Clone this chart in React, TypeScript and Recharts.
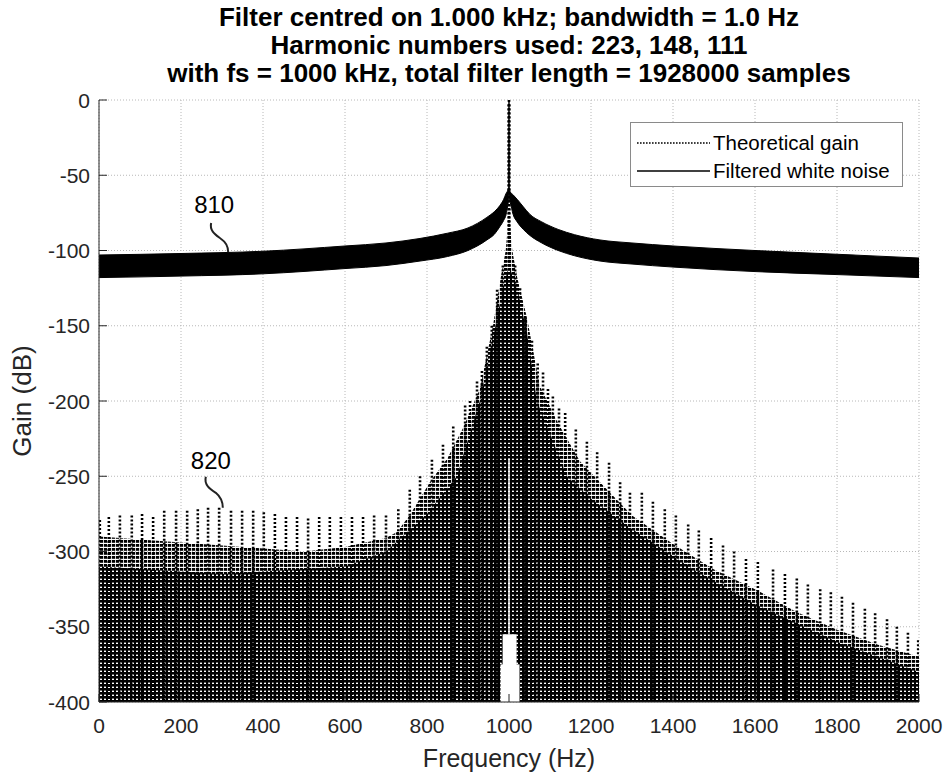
import React from 'react';
import {
  ComposedChart,
  Line,
  Area,
  XAxis,
  YAxis,
  CartesianGrid,
  ReferenceDot,
  Legend,
} from 'recharts';

const FONT = '"Liberation Sans", Arial, Helvetica, sans-serif';
const AXIS_COLOR = '#262626';

const titleLines = [
  'Filter centred on 1.000 kHz; bandwidth = 1.0 Hz',
  'Harmonic numbers used: 223, 148, 111',
  'with fs = 1000 kHz, total filter length = 1928000 samples',
];

const xTicks = [0, 200, 400, 600, 800, 1000, 1200, 1400, 1600, 1800, 2000];
const yTicks = [0, -50, -100, -150, -200, -250, -300, -350, -400];

// Filtered white noise: thick band (low / high envelope, dB)
const noiseFreq = [0, 200, 400, 600, 700, 783, 850, 900, 946, 965, 978, 987, 993, 997, 999, 1000, 1001, 1003, 1010, 1020, 1035, 1051, 1080, 1120, 1160, 1222, 1300, 1400, 1600, 1800, 2000];
const noiseHigh = [-103, -102, -100.5, -97, -95, -92, -88.5, -85, -78, -74, -70, -66, -62, -60, -58, 0, -58, -61, -63, -66, -71, -76, -81, -86, -89.5, -93, -95, -97, -100, -102.5, -105];
const noiseLow = [-118, -117, -115.5, -112, -110, -107, -104, -100, -93, -89, -84, -80, -76, -70, -66, -62, -66, -68, -76, -81, -86, -90, -95, -100, -103.5, -107, -109, -111, -114, -116, -118];

// Theoretical gain: visible peaks of the oscillating (dotted) curve
const spikeFreq = [2, 24, 51, 80, 105, 132, 159, 188, 215, 241, 266, 293, 322, 349, 376, 402, 429, 456, 483, 510, 537, 563, 590, 617, 644, 671, 700, 730, 758, 783, 812, 839, 864, 893, 905, 922, 934, 946, 958, 971, 985, 999, 1000, 1001, 1015, 1027, 1040, 1056, 1070, 1083, 1095, 1107, 1122, 1137, 1163, 1190, 1215, 1244, 1271, 1295, 1324, 1351, 1380, 1407, 1437, 1463, 1493, 1522, 1549, 1578, 1607, 1644, 1673, 1702, 1729, 1759, 1785, 1812, 1839, 1868, 1893, 1922, 1946, 1973, 1998];
const spikeTop = [-279, -277, -276, -276, -275, -277, -273, -273, -273, -272, -271, -271, -273, -273, -273, -274, -275, -277, -277, -278, -277, -277, -277, -277, -277, -276, -276, -272, -259, -250, -239, -229, -217, -203, -200, -187, -180, -164, -150, -126, -110, -3, 0, -3, -110, -125, -145, -160, -175, -181, -192, -197, -205, -208, -219, -227, -234, -241, -254, -261, -261, -267, -272, -276, -282, -286, -291, -296, -300, -305, -307, -312, -315, -318, -322, -325, -327, -330, -334, -338, -341, -345, -350, -354, -359];

// Theoretical gain: top of the densely packed oscillations (light texture)
const massFreq = [0, 100, 200, 300, 400, 500, 600, 700, 727, 760, 807, 850, 888, 929, 961, 980, 992, 1000, 1008, 1020, 1044, 1075, 1120, 1173, 1250, 1300, 1400, 1500, 1600, 1700, 1800, 1900, 2000];
const massTop = [-290, -292, -294, -296, -298, -300, -297, -291, -287, -275, -254, -238, -218, -192, -150, -118, -100, -75, -100, -118, -145, -190, -215, -240, -262, -276, -295, -312, -325, -340, -352, -362, -370];

// Theoretical gain: top of the nearly solid region (dark texture)
const denseFreq = [0, 300, 600, 700, 800, 873, 929, 960, 985, 1000, 1020, 1044, 1068, 1141, 1200, 1300, 1450, 1600, 1800, 2000];
const denseTop = [-310, -315, -310, -300, -275, -250, -200, -160, -125, -110, -125, -155, -200, -250, -265, -285, -312, -335, -360, -380];

// White gaps at the centre bottom (drawn as white segments)
const notchInnerFreq = [1001.5, 1001.5];
const notchInnerGain = [-355, -400];
const notchOuterFreq = [1002.5, 1002.5];
const notchOuterGain = [-375, -400];
const slitFreq = [1000, 1000];
const slitGain = [-238, -355];

const FLOOR = -400;

const noiseData = noiseFreq.map((f, i) => ({ f, r: [noiseLow[i], noiseHigh[i]] }));
const spikeData = spikeFreq.flatMap((f, i) => [
  { f, g: spikeTop[i] },
  { f, g: FLOOR },
  { f, g: null },
]);
const massData = massFreq.map((f, i) => ({ f, r: [FLOOR, massTop[i]] }));
const denseData = denseFreq.map((f, i) => ({ f, r: [FLOOR, denseTop[i]] }));
const notchInnerData = notchInnerFreq.map((f, i) => ({ f, g: notchInnerGain[i] }));
const notchOuterData = notchOuterFreq.map((f, i) => ({ f, g: notchOuterGain[i] }));
const slitData = slitFreq.map((f, i) => ({ f, g: slitGain[i] }));

const legendItems = [
  { label: 'Theoretical gain', dash: '1.6 1.4' },
  { label: 'Filtered white noise', dash: undefined as string | undefined },
];

const XTickBottom = (props: any) => {
  const { x, y, payload } = props;
  return (
    <g>
      <line x1={x} x2={x} y1={y} y2={y - 8} stroke={AXIS_COLOR} strokeWidth={1} />
      <text x={x} y={y + 31} textAnchor="middle" fontSize={21} fontFamily={FONT} fill={AXIS_COLOR}>
        {payload.value}
      </text>
    </g>
  );
};

const XTickTop = (props: any) => {
  const { x, y } = props;
  return <line x1={x} x2={x} y1={y} y2={y + 8} stroke={AXIS_COLOR} strokeWidth={1} />;
};

const YTickLeft = (props: any) => {
  const { x, y, payload } = props;
  return (
    <g>
      <line x1={x} x2={x + 8} y1={y} y2={y} stroke={AXIS_COLOR} strokeWidth={1} />
      <text x={x - 9} y={y + 7.5} textAnchor="end" fontSize={21} fontFamily={FONT} fill={AXIS_COLOR}>
        {payload.value}
      </text>
    </g>
  );
};

const YTickRight = (props: any) => {
  const { x, y } = props;
  return <line x1={x} x2={x - 8} y1={y} y2={y} stroke={AXIS_COLOR} strokeWidth={1} />;
};

const renderLegend = () => (
  <div
    style={{
      position: 'relative',
      width: 273,
      height: 65,
      boxSizing: 'border-box',
      border: '1px solid #8a8a8a',
      background: '#fff',
      fontFamily: FONT,
    }}
  >
    {legendItems.map((it, i) => (
      <div
        key={it.label}
        style={{ position: 'absolute', left: 0, top: i === 0 ? 7 : 35, height: 26, display: 'flex', alignItems: 'center' }}
      >
        <svg width={82} height={26} style={{ display: 'block' }}>
          <line x1={6} x2={79} y1={13} y2={13} stroke="#000" strokeWidth={1.4} strokeDasharray={it.dash} />
        </svg>
        <span style={{ fontSize: 20.5, color: '#000', lineHeight: '26px', whiteSpace: 'nowrap' }}>{it.label}</span>
      </div>
    ))}
  </div>
);

const makeCallout = (dx: number, dy: number, text: string, path: string) => (props: any) => {
  const { cx, cy } = props;
  if (cx == null || cy == null) return <g />;
  return (
    <g transform={`translate(${cx},${cy})`}>
      <path d={path} fill="none" stroke="#222" strokeWidth={2} />
      <text x={dx} y={dy} textAnchor="middle" fontSize={24} fontFamily={FONT} fill="#000">
        {text}
      </text>
    </g>
  );
};

const callout810 = makeCallout(-14, -39, '810', 'M -17 -29 C -19 -21, -12 -17, -7 -13 C -1 -9, 0 -5, 0 0');
const callout820 = makeCallout(-12, -39, '820', 'M -17 -31 C -19 -23, -13 -19, -7 -15 C -1 -10, 0 -5, 0 0');

export default function App() {
  return (
    <div style={{ position: 'absolute', left: 0, top: 0, width: 949, height: 778, background: '#fff', overflow: 'hidden' }}>
      {titleLines.map((t, i) => (
        <div
          key={t}
          style={{
            position: 'absolute',
            left: 59,
            width: 900,
            top: 3 + i * 28,
            height: 28,
            lineHeight: '28px',
            textAlign: 'center',
            fontFamily: FONT,
            fontWeight: 'bold',
            fontSize: 26,
            color: '#000',
            whiteSpace: 'nowrap',
          }}
        >
          {t}
        </div>
      ))}
      <ComposedChart width={949} height={778} margin={{ top: 100, right: 30, bottom: 0, left: 0 }}>
        <defs>
          <pattern id="lightTex" patternUnits="userSpaceOnUse" width="4" height="4">
            <rect x="0" y="0" width="3.2" height="2.8" fill="#000" />
          </pattern>
          <pattern id="darkTex" patternUnits="userSpaceOnUse" width="4" height="4">
            <rect x="0" y="0" width="4" height="4" fill="#000" />
            <rect x="0" y="2.6" width="2" height="1.4" fill="#fff" />
          </pattern>
        </defs>
        <CartesianGrid stroke="#b8b8b8" strokeDasharray="1 2" />
        <XAxis
          type="number"
          dataKey="f"
          domain={[0, 2000]}
          ticks={xTicks}
          interval={0}
          height={76}
          tickSize={0}
          tickMargin={0}
          tickLine={false}
          axisLine={{ stroke: AXIS_COLOR }}
          tick={XTickBottom}
          allowDataOverflow
          label={{
            content: (p: any) => {
              const vb = p.viewBox || {};
              return (
                <text x={vb.x + vb.width / 2} y={vb.y + 65} textAnchor="middle" fontSize={25} fontFamily={FONT} fill={AXIS_COLOR}>
                  Frequency (Hz)
                </text>
              );
            },
          }}
        />
        <XAxis
          xAxisId="top"
          orientation="top"
          type="number"
          dataKey="f"
          domain={[0, 2000]}
          ticks={xTicks}
          interval={0}
          height={0}
          tickSize={0}
          tickMargin={0}
          tickLine={false}
          axisLine={{ stroke: AXIS_COLOR }}
          tick={XTickTop}
          allowDataOverflow
        />
        <YAxis
          type="number"
          domain={[-400, 0]}
          ticks={yTicks}
          interval={0}
          width={99}
          tickSize={0}
          tickMargin={0}
          tickLine={false}
          axisLine={{ stroke: AXIS_COLOR }}
          tick={YTickLeft}
          allowDataOverflow
          label={{
            content: (p: any) => {
              const vb = p.viewBox || {};
              const cx = vb.x + 22;
              const cy = vb.y + vb.height / 2;
              return (
                <text
                  x={cx}
                  y={cy}
                  transform={`rotate(-90 ${cx} ${cy})`}
                  textAnchor="middle"
                  dominantBaseline="central"
                  fontSize={26}
                  fontFamily={FONT}
                  fill={AXIS_COLOR}
                >
                  Gain (dB)
                </text>
              );
            },
          }}
        />
        <YAxis
          yAxisId="right"
          orientation="right"
          type="number"
          domain={[-400, 0]}
          ticks={yTicks}
          interval={0}
          width={0}
          tickSize={0}
          tickMargin={0}
          tickLine={false}
          axisLine={{ stroke: AXIS_COLOR }}
          tick={YTickRight}
          allowDataOverflow
        />

        <Area
          data={massData}
          dataKey="r"
          type="linear"
          fill="url(#lightTex)"
          fillOpacity={1}
          stroke="none"
          isAnimationActive={false}
          legendType="none"
        />
        <Area
          data={denseData}
          dataKey="r"
          type="linear"
          fill="url(#darkTex)"
          fillOpacity={1}
          stroke="none"
          isAnimationActive={false}
          legendType="none"
        />
        <Area
          name="Filtered white noise"
          data={noiseData}
          dataKey="r"
          type="monotoneX"
          fill="#000"
          fillOpacity={1}
          stroke="#000"
          strokeWidth={1}
          isAnimationActive={false}
        />
        <Line
          name="Theoretical gain"
          data={spikeData}
          dataKey="g"
          type="linear"
          stroke="#000"
          strokeWidth={2.6}
          strokeDasharray="2 2"
          dot={false}
          activeDot={false}
          connectNulls={false}
          isAnimationActive={false}
        />
        <Line
          data={notchOuterData}
          dataKey="g"
          type="linear"
          stroke="#fff"
          strokeWidth={19}
          dot={false}
          activeDot={false}
          isAnimationActive={false}
          legendType="none"
        />
        <Line
          data={notchInnerData}
          dataKey="g"
          type="linear"
          stroke="#fff"
          strokeWidth={14}
          dot={false}
          activeDot={false}
          isAnimationActive={false}
          legendType="none"
        />
        <Line
          data={slitData}
          dataKey="g"
          type="linear"
          stroke="#fff"
          strokeWidth={1.5}
          dot={false}
          activeDot={false}
          isAnimationActive={false}
          legendType="none"
        />

        <ReferenceDot x={315} y={-101} r={0} shape={callout810} />
        <ReferenceDot x={302} y={-271} r={0} shape={callout820} />

        <Legend
          layout="vertical"
          align="center"
          verticalAlign="middle"
          content={renderLegend}
          wrapperStyle={{ position: 'absolute', left: 630, top: 122, width: 273, height: 65 }}
        />
      </ComposedChart>
    </div>
  );
}
